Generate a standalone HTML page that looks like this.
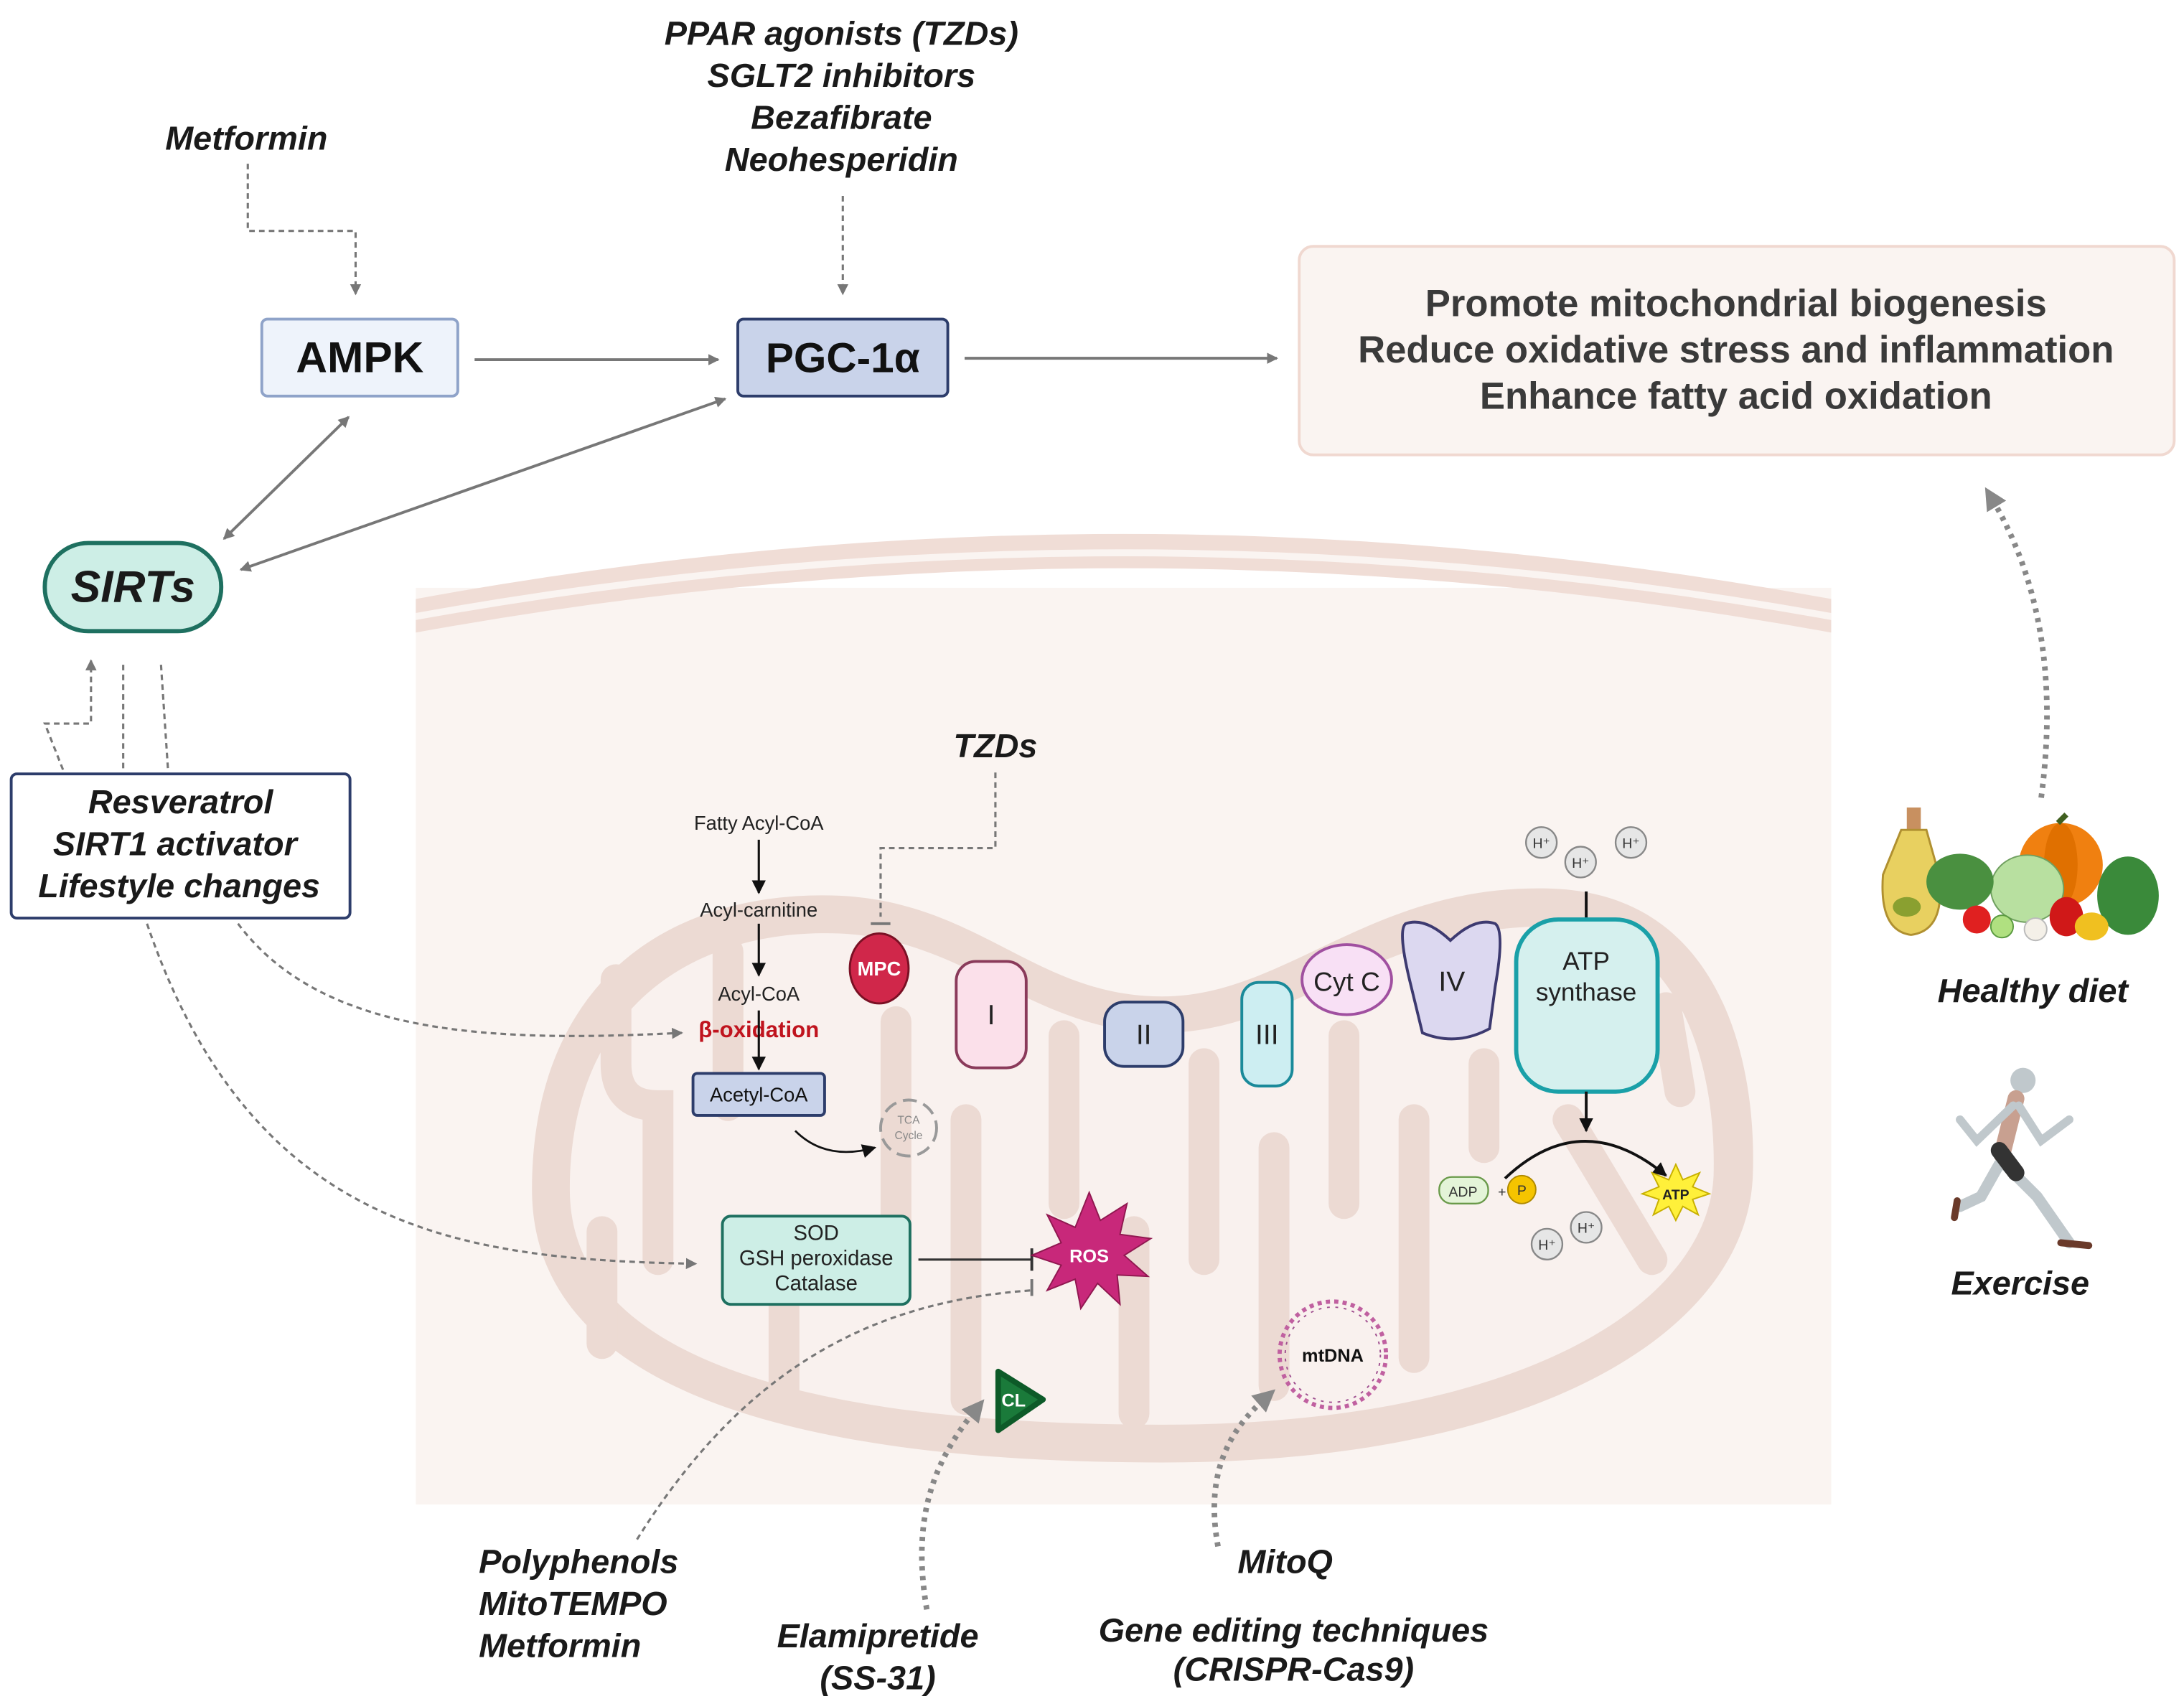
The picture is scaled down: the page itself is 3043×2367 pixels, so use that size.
<!DOCTYPE html>
<html><head><meta charset="utf-8"><style>
html,body{margin:0;padding:0;background:#fff;}
svg{display:block;}
text{font-family:"Liberation Sans",sans-serif;}
.it{font-style:italic;font-weight:bold;fill:#1a1a1a;}
</style></head><body>
<svg width="3043" height="2367" viewBox="0 0 1560 1214" preserveAspectRatio="none" xmlns="http://www.w3.org/2000/svg">
<defs>
<marker id="ag" markerWidth="8" markerHeight="8" refX="7" refY="4" orient="auto" markerUnits="userSpaceOnUse"><path d="M0,0 L8,4 L0,8z" fill="#777"/></marker>
<marker id="agr" markerWidth="8" markerHeight="8" refX="1" refY="4" orient="auto" markerUnits="userSpaceOnUse"><path d="M8,0 L0,4 L8,8z" fill="#777"/></marker>
<marker id="ak" markerWidth="10" markerHeight="10" refX="9" refY="5" orient="auto" markerUnits="userSpaceOnUse"><path d="M0,0 L10,5 L0,10z" fill="#111"/></marker>
<marker id="abig" markerWidth="16" markerHeight="16" refX="8" refY="8" orient="auto" markerUnits="userSpaceOnUse"><path d="M0,0 L16,8 L0,16z" fill="#888"/></marker>
</defs>
<rect width="1560" height="1214" fill="#fff"/>

<!-- cell background -->
<rect x="297" y="420" width="1011" height="655" fill="#faf4f1"/>
<path d="M297,428 Q802,335 1308,428 L1308,452 Q802,360 297,452 Z" fill="#f0ddd6"/>
<path d="M297,438 Q802,347 1308,438 L1308,443 Q802,352 297,443 Z" fill="#faf4f1"/>

<!-- mitochondrion -->
<path d="M380,850 C380,700 480,635 600,640 C700,645 740,712 830,712 C920,712 980,630 1110,635 C1230,640 1255,760 1252,840 C1248,950 1100,1045 830,1045 C560,1045 380,990 380,850 Z" fill="#ecdad3"/>
<path d="M407,850 C407,720 495,663 600,667 C690,671 740,738 830,738 C925,738 985,660 1110,662 C1205,665 1226,770 1224,840 C1220,930 1090,1018 830,1018 C575,1018 407,970 407,850 Z" fill="#f9f1ee"/>
<g stroke="#ecdad3" stroke-width="22" stroke-linecap="round" fill="none">
<path d="M440,700 L440,760 Q440,790 470,790 L470,900"/>
<path d="M520,680 L520,790"/>
<path d="M560,920 L560,1000"/>
<path d="M640,730 L640,900"/>
<path d="M690,800 L690,1000"/>
<path d="M760,740 L760,860"/>
<path d="M810,880 L810,1010"/>
<path d="M860,760 L860,900"/>
<path d="M910,820 L910,990"/>
<path d="M960,740 L960,860"/>
<path d="M1010,800 L1010,970"/>
<path d="M1060,760 L1060,820"/>
<path d="M1120,800 L1180,900"/>
<path d="M1190,720 L1200,780"/>
<path d="M430,880 L430,960"/>
</g>

<!-- top drugs -->
<text x="176" y="107" class="it" font-size="24" text-anchor="middle">Metformin</text>
<path d="M177,117 L177,165 L254,165 L254,210" fill="none" stroke="#777" stroke-width="1.6" stroke-dasharray="4,3" marker-end="url(#ag)"/>
<g class="it" font-size="24" text-anchor="middle">
<text x="601" y="32">PPAR agonists (TZDs)</text>
<text x="601" y="62">SGLT2 inhibitors</text>
<text x="601" y="92">Bezafibrate</text>
<text x="601" y="122">Neohesperidin</text>
</g>
<path d="M602,140 L602,210" fill="none" stroke="#777" stroke-width="1.6" stroke-dasharray="4,3" marker-end="url(#ag)"/>

<!-- AMPK / PGC -->
<rect x="187" y="228" width="140" height="55" rx="4" fill="#eef3fb" stroke="#8fa3c9" stroke-width="2"/>
<text x="257" y="266" font-size="31" font-weight="bold" text-anchor="middle" fill="#111">AMPK</text>
<rect x="527" y="228" width="150" height="55" rx="4" fill="#c9d3ea" stroke="#2d3d6b" stroke-width="2"/>
<text x="602" y="266" font-size="30" font-weight="bold" text-anchor="middle" fill="#111">PGC-1α</text>
<line x1="339" y1="257" x2="513" y2="257" stroke="#777" stroke-width="2" marker-end="url(#ag)"/>
<line x1="689" y1="256" x2="912" y2="256" stroke="#777" stroke-width="2" marker-end="url(#ag)"/>

<rect x="928" y="176" width="625" height="149" rx="10" fill="#faf4f1" stroke="#f0d8d0" stroke-width="2"/>
<g font-size="27" font-weight="bold" fill="#3a3a3a" text-anchor="middle">
<text x="1240" y="226">Promote mitochondrial biogenesis</text>
<text x="1240" y="259">Reduce oxidative stress and inflammation</text>
<text x="1240" y="292">Enhance fatty acid oxidation</text>
</g>

<!-- SIRTs -->
<rect x="32" y="388" width="126" height="63" rx="31" fill="#cdeee6" stroke="#1e7060" stroke-width="3"/>
<text x="95" y="430" class="it" font-size="32" text-anchor="middle">SIRTs</text>
<line x1="160" y1="385" x2="249" y2="298" stroke="#777" stroke-width="2" marker-end="url(#ag)" marker-start="url(#agr)"/>
<line x1="172" y1="407" x2="518" y2="285" stroke="#777" stroke-width="2" marker-end="url(#ag)" marker-start="url(#agr)"/>
<g fill="none" stroke="#777" stroke-width="1.6" stroke-dasharray="4,3">
<path d="M45,550 L32,517 L65,517 L65,472" marker-end="url(#ag)"/>
<path d="M88,475 L88,550"/>
<path d="M115,475 L120,550"/>
<path d="M170,660 C230,740 350,745 487,738" marker-end="url(#ag)"/>
<path d="M105,660 C180,880 330,900 497,903" marker-end="url(#ag)"/>
<path d="M455,1100 C530,980 620,930 737,922"/>
</g>
<rect x="8" y="553" width="242" height="103" rx="4" fill="#fff" stroke="#2d3d6b" stroke-width="2"/>
<g class="it" font-size="24" text-anchor="middle">
<text x="129" y="581">Resveratrol</text>
<text x="125" y="611">SIRT1 activator</text>
<text x="128" y="641">Lifestyle changes</text>
</g>

<!-- fatty acid pathway -->
<g font-size="14" fill="#222" text-anchor="middle">
<text x="542" y="593">Fatty Acyl-CoA</text>
<text x="542" y="655">Acyl-carnitine</text>
<text x="542" y="715">Acyl-CoA</text>
</g>
<text x="542" y="741" font-size="16" font-weight="bold" fill="#c0141e" text-anchor="middle">β-oxidation</text>
<g stroke="#111" stroke-width="1.6" marker-end="url(#ak)">
<line x1="542" y1="600" x2="542" y2="638"/>
<line x1="542" y1="660" x2="542" y2="697"/>
<line x1="542" y1="722" x2="542" y2="764"/>
</g>
<rect x="495" y="767" width="94" height="30" rx="3" fill="#c9d3ea" stroke="#2d3d6b" stroke-width="2"/>
<text x="542" y="787" font-size="14" text-anchor="middle" fill="#111">Acetyl-CoA</text>
<path d="M568,808 Q590,830 625,820" fill="none" stroke="#111" stroke-width="1.4" marker-end="url(#ak)"/>
<circle cx="649" cy="806" r="20" fill="none" stroke="#999" stroke-width="2" stroke-dasharray="10,5"/>
<text x="649" y="803" font-size="8" fill="#888" text-anchor="middle">TCA</text>
<text x="649" y="814" font-size="8" fill="#888" text-anchor="middle">Cycle</text>

<!-- TZDs -->
<text x="711" y="541" class="it" font-size="24" text-anchor="middle">TZDs</text>
<path d="M711,552 L711,606 L629,606 L629,655" fill="none" stroke="#777" stroke-width="1.6" stroke-dasharray="4,3"/>
<line x1="622" y1="660" x2="636" y2="660" stroke="#777" stroke-width="2"/>

<!-- ETC -->
<ellipse cx="628" cy="692" rx="21" ry="25" fill="#d0274a" stroke="#7a1024" stroke-width="1.5"/>
<text x="628" y="697" font-size="14" font-weight="bold" fill="#fff" text-anchor="middle">MPC</text>
<rect x="683" y="687" width="50" height="76" rx="14" fill="#fbe0ea" stroke="#8a3a5a" stroke-width="2"/>
<text x="708" y="732" font-size="20" text-anchor="middle" fill="#222">I</text>
<rect x="789" y="716" width="56" height="46" rx="14" fill="#c9d3ea" stroke="#2d3d6b" stroke-width="2"/>
<text x="817" y="746" font-size="20" text-anchor="middle" fill="#222">II</text>
<rect x="887" y="702" width="36" height="74" rx="12" fill="#cdeef2" stroke="#1a8a9a" stroke-width="2"/>
<text x="905" y="746" font-size="20" text-anchor="middle" fill="#222">III</text>
<ellipse cx="962" cy="700" rx="32" ry="25" fill="#f8e0f5" stroke="#a050a0" stroke-width="2"/>
<text x="962" y="708" font-size="19" text-anchor="middle" fill="#222">Cyt C</text>
<path d="M1004,660 Q1018,655 1036,672 Q1054,655 1068,660 Q1075,665 1068,705 L1064,735 Q1040,748 1016,738 L1008,705 Q998,665 1004,660 Z" fill="#dcd8f0" stroke="#3d3a70" stroke-width="2"/>
<text x="1037" y="708" font-size="20" text-anchor="middle" fill="#222">IV</text>
<line x1="1133" y1="637" x2="1133" y2="657" stroke="#111" stroke-width="2"/>
<rect x="1083" y="657" width="101" height="123" rx="30" fill="#d5f0ee" stroke="#1aa0a8" stroke-width="3"/>
<text x="1133" y="693" font-size="18" text-anchor="middle" fill="#222">ATP</text>
<text x="1133" y="715" font-size="18" text-anchor="middle" fill="#222">synthase</text>
<g fill="#e6e6e6" stroke="#888" stroke-width="1.2">
<circle cx="1101" cy="602" r="11"/><circle cx="1129" cy="616" r="11"/><circle cx="1165" cy="602" r="11"/>
<circle cx="1105" cy="889" r="11"/><circle cx="1133" cy="877" r="11"/>
</g>
<g font-size="10" text-anchor="middle" fill="#333">
<text x="1101" y="606">H⁺</text><text x="1129" y="620">H⁺</text><text x="1165" y="606">H⁺</text>
<text x="1105" y="893">H⁺</text><text x="1133" y="881">H⁺</text>
</g>
<line x1="1133" y1="780" x2="1133" y2="808" stroke="#111" stroke-width="2" marker-end="url(#ak)"/>
<path d="M1075,842 Q1130,790 1190,840" fill="none" stroke="#111" stroke-width="2" marker-end="url(#ak)"/>
<rect x="1028" y="841" width="35" height="19" rx="9" fill="#e4f4d8" stroke="#6a9a4a" stroke-width="1.2"/>
<text x="1045" y="855" font-size="10" text-anchor="middle" fill="#333">ADP</text>
<text x="1070" y="855" font-size="10" fill="#333">+</text>
<circle cx="1087" cy="850" r="10" fill="#f5c400" stroke="#b08a00"/>
<text x="1087" y="854" font-size="10" text-anchor="middle" fill="#333">P</text>
<polygon points="1197,832 1202,843 1214,838 1209,848 1221,853 1209,857 1213,868 1202,862 1197,872 1192,862 1181,868 1185,857 1173,853 1185,848 1180,838 1192,843" fill="#fff03a" stroke="#c8b000"/>
<text x="1197" y="857" font-size="10" font-weight="bold" text-anchor="middle" fill="#222">ATP</text>

<!-- SOD / ROS -->
<rect x="516" y="869" width="134" height="63" rx="6" fill="#cdeee6" stroke="#1e7060" stroke-width="2"/>
<g font-size="15" text-anchor="middle" fill="#222">
<text x="583" y="886">SOD</text><text x="583" y="904">GSH peroxidase</text><text x="583" y="922">Catalase</text>
</g>
<line x1="656" y1="900" x2="737" y2="900" stroke="#333" stroke-width="1.6"/>
<line x1="737" y1="892" x2="737" y2="908" stroke="#333" stroke-width="2"/>
<line x1="737" y1="914" x2="737" y2="926" stroke="#777" stroke-width="2"/>
<polygon points="778,852 786,872 805,860 800,882 822,885 803,897 820,912 798,911 800,932 784,917 772,935 768,914 748,922 758,904 737,897 758,888 748,868 768,877" fill="#c8287a" stroke="#901850"/>
<text x="778" y="902" font-size="13" font-weight="bold" text-anchor="middle" fill="#fff">ROS</text>

<!-- CL, mtDNA -->
<path d="M713,980 L713,1022 L745,1000 Z" fill="#1a7a3a" stroke="#0d5a28" stroke-width="4" stroke-linejoin="round"/>
<text x="724" y="1005" font-size="13" font-weight="bold" text-anchor="middle" fill="#fff">CL</text>
<circle cx="952" cy="968" r="38" fill="none" stroke="#c060a0" stroke-width="3" stroke-dasharray="3,3"/>
<circle cx="952" cy="968" r="34" fill="none" stroke="#a05090" stroke-width="1" stroke-dasharray="2,4"/>
<text x="952" y="973" font-size="13" font-weight="bold" text-anchor="middle" fill="#111">mtDNA</text>

<!-- thick dotted arrows -->
<g fill="none" stroke="#888" stroke-width="4" stroke-dasharray="3,4">
<path d="M662,1150 C650,1080 670,1040 698,1006" marker-end="url(#abig)"/>
<path d="M870,1105 C860,1050 880,1020 905,998" marker-end="url(#abig)"/>
<path d="M1458,570 C1470,480 1455,410 1422,355" marker-end="url(#abig)"/>
</g>

<!-- bottom labels -->
<g class="it" font-size="24">
<text x="342" y="1124">Polyphenols</text>
<text x="342" y="1154">MitoTEMPO</text>
<text x="342" y="1184">Metformin</text>
</g>
<g class="it" font-size="24" text-anchor="middle">
<text x="627" y="1177">Elamipretide</text>
<text x="627" y="1207">(SS-31)</text>
<text x="918" y="1124">MitoQ</text>
<text x="924" y="1173">Gene editing techniques</text>
<text x="924" y="1201">(CRISPR-Cas9)</text>
<text x="1452" y="716">Healthy diet</text>
<text x="1443" y="925">Exercise</text>
</g>

<!-- healthy diet illustration -->
<rect x="1362" y="577" width="10" height="16" fill="#c89060"/>
<path d="M1358,593 L1376,593 L1385,625 Q1390,665 1365,668 Q1342,665 1345,625 Z" fill="#e8d060" stroke="#b09030" stroke-width="1.5"/>
<ellipse cx="1362" cy="648" rx="10" ry="7" fill="#8aa030"/>
<ellipse cx="1472" cy="618" rx="30" ry="30" fill="#f08010"/>
<ellipse cx="1472" cy="618" rx="12" ry="30" fill="#e07000"/>
<path d="M1470,588 L1476,582" stroke="#406020" stroke-width="4"/>
<ellipse cx="1448" cy="635" rx="26" ry="24" fill="#b8e0a0" stroke="#70a060"/>
<ellipse cx="1400" cy="630" rx="24" ry="20" fill="#4a9040"/>
<ellipse cx="1520" cy="640" rx="22" ry="28" fill="#3a8a3a"/>
<circle cx="1412" cy="657" r="10" fill="#e02020"/>
<circle cx="1430" cy="662" r="8" fill="#b0e080" stroke="#5a9a40"/>
<ellipse cx="1476" cy="655" rx="12" ry="14" fill="#d01818"/>
<ellipse cx="1494" cy="662" rx="12" ry="10" fill="#f0c020"/>
<ellipse cx="1454" cy="664" rx="8" ry="8" fill="#f4f0e8" stroke="#bbb"/>

<!-- runner -->
<g stroke-linecap="round" fill="none">
<circle cx="1445" cy="772" r="9" fill="#c0c8cc" stroke="none"/>
<path d="M1440,785 L1430,825" stroke="#c8a090" stroke-width="12"/>
<path d="M1438,790 L1412,815 L1400,800" stroke="#c0c8cc" stroke-width="6"/>
<path d="M1442,790 L1458,815 L1478,800" stroke="#c0c8cc" stroke-width="6"/>
<path d="M1430,830 L1455,855 L1478,888" stroke="#c0c8cc" stroke-width="8"/>
<path d="M1428,832 L1415,855 L1400,862" stroke="#c0c8cc" stroke-width="8"/>
<path d="M1428,822 L1440,838" stroke="#333" stroke-width="12"/>
<path d="M1472,888 L1492,890" stroke="#6a3a2a" stroke-width="5"/>
<path d="M1398,858 L1396,870" stroke="#6a3a2a" stroke-width="5"/>
</g>
</svg>
</body></html>
